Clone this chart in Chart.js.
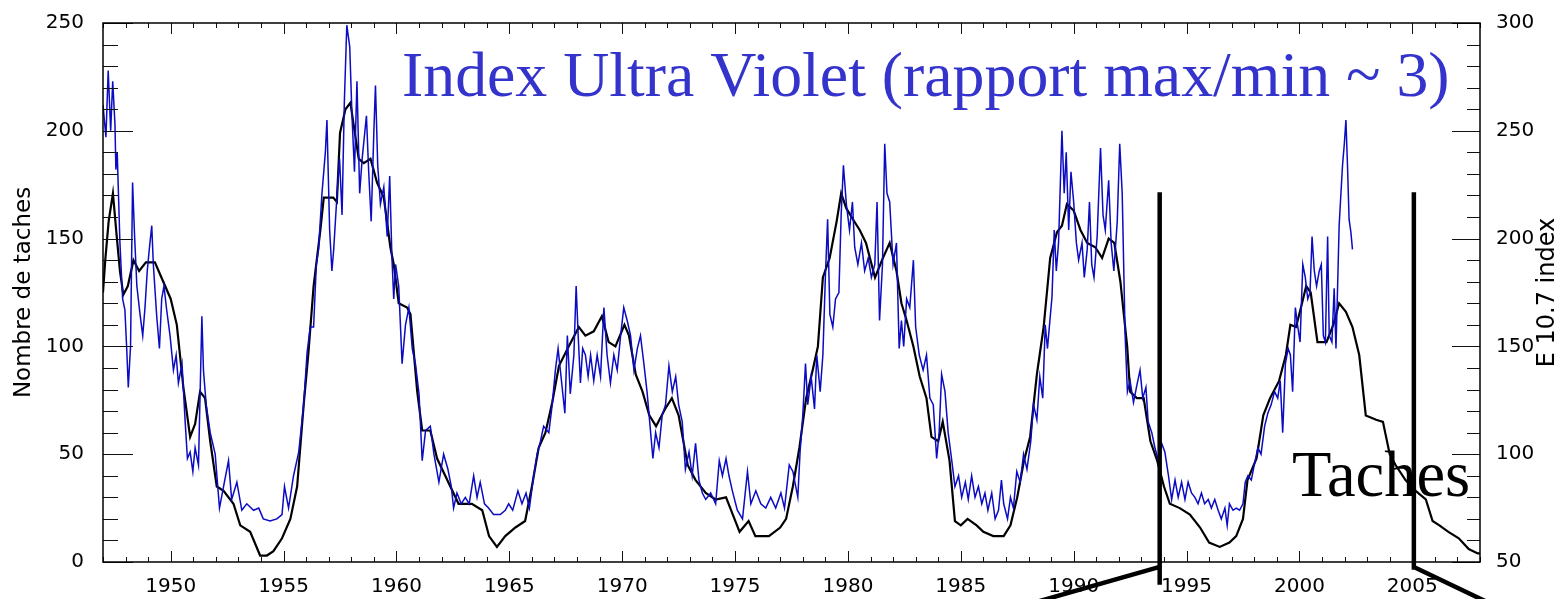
<!DOCTYPE html>
<html>
<head>
<meta charset="utf-8">
<title>Index Ultra Violet / Nombre de taches</title>
<script src="https://cdn.jsdelivr.net/npm/chart.js@4.4.1/dist/chart.umd.min.js"></script>
<style>
  html, body { margin: 0; padding: 0; background: #fff; }
  #wrap { position: relative; width: 1560px; height: 599px; }
</style>
</head>
<body>
<div id="wrap"><canvas id="chart"></canvas></div>
<script>
// sunspot number (black, left axis) : [year, value]
const sunspots = [
  [1947.00,125],[1947.10,140],[1947.25,158],[1947.44,171],[1947.60,152],[1947.75,135],[1947.90,124],
  [1948.10,128],[1948.35,140],[1948.60,135],[1948.90,139],[1949.30,139],[1949.67,130],[1950.00,122],
  [1950.27,110],[1950.56,81],[1950.86,58],[1951.08,64],[1951.30,79],[1951.52,76],[1951.75,56],
  [1952.04,35],[1952.34,33],[1952.78,27],[1953.08,17],[1953.52,14],[1953.96,3],[1954.26,3],
  [1954.55,5],[1954.93,11],[1955.30,20],[1955.60,35],[1955.89,73],[1956.10,97],[1956.33,128],
  [1956.63,154],[1956.78,169],[1957.20,169],[1957.36,167],[1957.50,199],[1957.74,210],[1957.96,213],
  [1958.10,203],[1958.33,187],[1958.55,185],[1958.85,187],[1959.14,176],[1959.44,169],[1959.73,146],
  [1959.88,138],[1960.10,120],[1960.47,118],[1960.62,115],[1960.92,79],[1961.14,61],[1961.50,61],
  [1961.80,48],[1962.25,38],[1962.75,27],[1963.34,27],[1963.80,24],[1964.10,12],[1964.45,7],
  [1964.82,12],[1965.27,16],[1965.70,19],[1966.00,35],[1966.30,53],[1966.60,60],[1966.90,74],
  [1967.20,91],[1967.63,100],[1968.08,109],[1968.37,105],[1968.74,107],[1969.10,114],[1969.40,102],
  [1969.70,100],[1970.10,110],[1970.30,105],[1970.60,87],[1970.90,79],[1971.20,68],[1971.50,63],
  [1971.90,71],[1972.20,76],[1972.50,68],[1972.90,45],[1973.25,38],[1973.70,32],[1974.14,29],
  [1974.60,30],[1974.90,22],[1975.20,14],[1975.60,19],[1975.90,12],[1976.50,12],[1977.00,16],
  [1977.26,20],[1977.56,35],[1977.85,53],[1978.15,76],[1978.44,89],[1978.67,100],[1978.89,132],
  [1979.19,141],[1979.50,158],[1979.70,171],[1979.93,164],[1980.22,159],[1980.52,154],[1980.80,148],
  [1981.20,132],[1981.55,141],[1981.85,148],[1982.15,135],[1982.37,120],[1982.60,112],[1982.90,100],
  [1983.18,86],[1983.48,76],[1983.70,58],[1984.00,56],[1984.20,65],[1984.50,47],[1984.74,19],
  [1985.00,17],[1985.30,20],[1985.70,17],[1986.00,14],[1986.44,12],[1986.90,12],[1987.20,17],
  [1987.50,30],[1987.80,47],[1988.07,58],[1988.37,87],[1988.67,109],[1988.96,141],[1989.26,153],
  [1989.48,156],[1989.70,166],[1990.00,163],[1990.30,154],[1990.60,148],[1990.96,146],[1991.26,141],
  [1991.55,150],[1991.80,148],[1992.07,130],[1992.37,100],[1992.50,79],[1992.80,76],[1993.10,76],
  [1993.40,56],[1993.70,47],[1994.00,35],[1994.26,27],[1994.70,25],[1995.15,22],[1995.60,16],
  [1996.00,9],[1996.47,7],[1996.90,9],[1997.20,12],[1997.50,20],[1997.70,38],[1998.10,48],
  [1998.40,68],[1998.70,76],[1999.10,84],[1999.40,96],[1999.60,110],[1999.85,109],[2000.07,118],
  [2000.30,128],[2000.50,125],[2000.80,102],[2001.20,102],[2001.50,110],[2001.76,120],[2002.06,116],
  [2002.35,109],[2002.65,96],[2002.94,68],[2003.40,66],[2003.70,65],[2004.00,50],[2004.26,45],
  [2004.70,38],[2005.15,33],[2005.60,29],[2005.90,19],[2006.20,17],[2006.60,14],[2007.06,11],
  [2007.50,6],[2007.90,4],[2008.00,4]
];

// F10.7 index (blue, right axis) : [year, value]
const f107 = [
  [1947.00,262],[1947.13,247],[1947.23,278],[1947.34,250],[1947.43,273],[1947.53,253],[1947.57,232],
  [1947.63,240],[1947.75,198],[1947.87,172],[1947.97,167],[1948.05,149],[1948.12,131],[1948.22,150],
  [1948.31,226],[1948.40,201],[1948.50,178],[1948.64,165],[1948.76,155],[1948.86,168],[1948.96,185],
  [1949.05,195],[1949.16,206],[1949.23,188],[1949.38,164],[1949.50,149],[1949.60,172],[1949.70,178],
  [1949.82,167],[1949.97,155],[1950.12,139],[1950.24,146],[1950.34,133],[1950.50,142],[1950.64,115],
  [1950.74,98],[1950.86,101],[1950.98,92],[1951.08,103],[1951.23,95],[1951.38,164],[1951.45,139],
  [1951.57,123],[1951.75,110],[1951.97,100],[1952.16,75],[1952.34,85],[1952.56,97],[1952.70,79],
  [1952.93,87],[1953.15,74],[1953.37,77],[1953.67,74],[1953.90,75],[1954.10,70],[1954.40,69],
  [1954.70,70],[1954.93,72],[1955.04,85],[1955.22,75],[1955.44,90],[1955.67,101],[1955.89,123],
  [1956.04,147],[1956.18,159],[1956.33,159],[1956.45,188],[1956.55,195],[1956.70,221],[1956.85,240],
  [1956.92,255],[1957.04,204],[1957.14,185],[1957.22,195],[1957.37,221],[1957.48,237],[1957.59,211],
  [1957.69,263],[1957.80,299],[1957.93,289],[1958.03,257],[1958.14,231],[1958.25,273],[1958.37,221],
  [1958.48,237],[1958.67,257],[1958.77,231],[1958.88,208],[1959.00,250],[1959.07,271],[1959.17,234],
  [1959.29,216],[1959.44,224],[1959.59,201],[1959.70,229],[1959.80,191],[1959.88,172],[1959.96,188],
  [1960.10,178],[1960.25,142],[1960.40,160],[1960.55,168],[1960.70,149],[1960.84,142],[1961.00,128],
  [1961.14,97],[1961.29,111],[1961.50,113],[1961.66,100],[1961.88,87],[1962.09,100],[1962.28,93],
  [1962.43,85],[1962.53,75],[1962.68,82],[1962.87,77],[1963.05,80],[1963.22,77],[1963.42,90],
  [1963.57,80],[1963.71,87],[1963.90,77],[1964.08,75],[1964.30,72],[1964.60,72],[1964.82,74],
  [1964.97,77],[1965.15,74],[1965.38,83],[1965.56,77],[1965.74,82],[1965.89,75],[1966.08,90],
  [1966.23,100],[1966.38,106],[1966.52,113],[1966.75,110],[1966.90,123],[1967.04,139],[1967.16,149],
  [1967.26,139],[1967.46,119],[1967.57,155],[1967.70,128],[1967.86,146],[1967.96,178],[1968.05,155],
  [1968.15,133],[1968.25,149],[1968.37,146],[1968.49,136],[1968.60,146],[1968.74,134],[1968.89,146],
  [1969.04,136],[1969.19,168],[1969.33,146],[1969.48,133],[1969.63,146],[1969.78,139],[1969.93,155],
  [1970.07,168],[1970.22,162],[1970.37,155],[1970.52,139],[1970.67,149],[1970.81,155],[1970.96,142],
  [1971.10,129],[1971.26,110],[1971.36,98],[1971.48,110],[1971.63,103],[1971.77,118],[1971.92,123],
  [1972.07,141],[1972.22,129],[1972.37,136],[1972.50,123],[1972.66,115],[1972.80,93],[1972.96,101],
  [1973.10,90],[1973.25,105],[1973.40,88],[1973.55,82],[1973.70,79],[1973.92,82],[1974.14,77],
  [1974.30,97],[1974.44,90],[1974.60,98],[1974.73,90],[1974.88,83],[1975.10,74],[1975.33,70],
  [1975.55,92],[1975.70,77],[1975.92,83],[1976.14,77],[1976.36,75],[1976.58,80],[1976.80,75],
  [1977.03,82],[1977.19,75],[1977.40,95],[1977.56,92],[1977.78,80],[1977.88,101],[1978.00,118],
  [1978.12,142],[1978.22,123],[1978.37,136],[1978.52,121],[1978.62,146],[1978.77,129],[1978.89,146],
  [1979.00,182],[1979.10,209],[1979.20,165],[1979.33,159],[1979.45,172],[1979.60,175],[1979.70,211],
  [1979.80,234],[1979.93,216],[1980.07,204],[1980.20,217],[1980.30,196],[1980.44,188],[1980.60,198],
  [1980.74,185],[1980.90,191],[1981.04,182],[1981.19,188],[1981.29,217],[1981.40,162],[1981.53,188],
  [1981.63,244],[1981.73,221],[1981.85,217],[1982.00,188],[1982.15,198],[1982.27,149],[1982.37,162],
  [1982.47,150],[1982.60,172],[1982.74,168],[1982.90,190],[1983.00,159],[1983.16,146],[1983.33,139],
  [1983.48,146],[1983.63,126],[1983.78,123],[1983.93,98],[1984.04,110],[1984.15,137],[1984.30,129],
  [1984.44,110],[1984.60,97],[1984.74,85],[1984.90,90],[1985.04,80],[1985.20,87],[1985.33,79],
  [1985.48,90],[1985.63,80],[1985.78,85],[1985.93,77],[1986.07,82],[1986.20,74],[1986.37,82],
  [1986.52,70],[1986.67,74],[1986.80,88],[1986.90,77],[1987.07,70],[1987.20,80],[1987.33,75],
  [1987.48,92],[1987.63,87],[1987.78,100],[1987.93,93],[1988.10,106],[1988.22,123],[1988.37,116],
  [1988.50,136],[1988.63,126],[1988.74,160],[1988.84,149],[1988.93,160],[1989.04,173],[1989.14,204],
  [1989.23,185],[1989.33,198],[1989.48,250],[1989.58,221],[1989.67,240],[1989.78,204],[1989.88,231],
  [1990.00,217],[1990.12,198],[1990.22,190],[1990.37,198],[1990.47,182],[1990.60,195],[1990.70,217],
  [1990.80,188],[1990.90,182],[1991.04,201],[1991.19,242],[1991.30,211],[1991.40,204],[1991.55,227],
  [1991.66,198],[1991.78,185],[1991.93,208],[1992.04,244],[1992.15,221],[1992.28,155],[1992.38,129],
  [1992.50,134],[1992.65,124],[1992.80,132],[1992.94,139],[1993.06,126],[1993.20,131],[1993.30,115],
  [1993.46,110],[1993.60,103],[1993.75,97],[1993.90,105],[1994.04,101],[1994.20,90],[1994.34,79],
  [1994.49,88],[1994.63,80],[1994.78,87],[1994.93,79],[1995.07,87],[1995.22,82],[1995.37,80],
  [1995.51,77],[1995.66,82],[1995.80,77],[1995.96,79],[1996.10,75],[1996.25,79],[1996.40,74],
  [1996.54,70],[1996.70,75],[1996.80,67],[1996.90,77],[1997.06,74],[1997.20,75],[1997.35,74],
  [1997.50,77],[1997.60,87],[1997.72,90],[1997.87,88],[1998.00,95],[1998.16,103],[1998.30,100],
  [1998.46,113],[1998.60,119],[1998.75,123],[1998.90,129],[1999.04,126],[1999.15,134],[1999.26,110],
  [1999.38,142],[1999.50,149],[1999.60,146],[1999.70,129],[1999.82,168],[1999.93,159],[2000.03,152],
  [2000.15,188],[2000.26,182],[2000.37,172],[2000.47,175],[2000.56,201],[2000.66,185],[2000.76,178],
  [2000.88,185],[2000.97,188],[2001.06,155],[2001.15,152],[2001.25,201],[2001.32,155],[2001.44,152],
  [2001.54,177],[2001.62,149],[2001.69,177],[2001.76,206],[2001.84,221],[2001.91,234],[2001.99,244],
  [2002.06,255],[2002.13,234],[2002.20,209],[2002.28,203],[2002.35,195]
];

const yearTicks = [1950, 1955, 1960, 1965, 1970, 1975, 1980, 1985, 1990, 1995, 2000, 2005];
const leftTicks = [0, 50, 100, 150, 200, 250];
const rightTicks = [50, 100, 150, 200, 250, 300];

// thick annotation lines, in axis units (year, left-axis value)
const marks = [
  { x: 1993.81, top: 171.5, bottom: -10.5, joint: -2.3, endX: 1985.67, endY: -26.5 },
  { x: 2005.07, top: 171.5, bottom: -3.6, joint: -2.3, endX: 2009.90, endY: -26.5 }
];

const tickFont = { family: 'DejaVu Sans', size: 20 };
const asText = v => String(v);

const decor = {
  id: 'decor',
  afterDatasetsDraw(chart) {
    const { ctx, chartArea: a, scales } = chart;
    const xs = scales.x, yl = scales.y, yr = scales.y2;
    ctx.save();

    // inward ticks on the four sides
    ctx.strokeStyle = '#111';
    ctx.lineWidth = 1;
    ctx.beginPath();
    for (let yv = 1947; yv <= 2008; yv++) {
      const px = Math.round(xs.getPixelForValue(yv)) + 0.5;
      const len = yv % 5 === 0 ? 11 : 5;
      ctx.moveTo(px, a.bottom); ctx.lineTo(px, a.bottom - len);
      ctx.moveTo(px, a.top); ctx.lineTo(px, a.top + len);
    }
    for (let v = 0; v <= 250; v += 10) {
      const py = Math.round(yl.getPixelForValue(v)) + 0.5;
      ctx.moveTo(a.left, py); ctx.lineTo(a.left + (v % 50 === 0 ? 30 : 15), py);
    }
    for (let v = 50; v <= 300; v += 10) {
      const py = Math.round(yr.getPixelForValue(v)) + 0.5;
      ctx.moveTo(a.right, py); ctx.lineTo(a.right - (v % 50 === 0 ? 28 : 13), py);
    }
    ctx.stroke();

    // frame
    ctx.lineWidth = 1.5;
    ctx.strokeStyle = '#000';
    ctx.strokeRect(a.left, a.top, a.right - a.left, a.bottom - a.top);

    // right axis title, reading upwards
    ctx.save();
    ctx.translate(1548, (a.top + a.bottom) / 2);
    ctx.rotate(-Math.PI / 2);
    ctx.font = '24px "DejaVu Sans"';
    ctx.fillStyle = '#000';
    ctx.textAlign = 'center';
    ctx.textBaseline = 'middle';
    ctx.fillText('E 10.7 index', 0, 0);
    ctx.restore();

    // big labels
    ctx.textBaseline = 'alphabetic';
    ctx.textAlign = 'left';
    ctx.font = '63.8px "Liberation Serif"';
    ctx.fillStyle = '#3434cc';
    ctx.fillText('Index Ultra Violet (rapport max/min ~ 3)', 402, 96);
    ctx.font = '64.5px "Liberation Serif"';
    ctx.fillStyle = '#000';
    ctx.fillText('Taches', 1292, 496);

    // thick marker lines
    ctx.lineWidth = 4.5;
    ctx.lineCap = 'butt';
    ctx.strokeStyle = '#000';
    marks.forEach(m => {
      const px = xs.getPixelForValue(m.x);
      ctx.beginPath();
      ctx.moveTo(px, yl.getPixelForValue(m.top));
      ctx.lineTo(px, yl.getPixelForValue(m.bottom));
      ctx.moveTo(px, yl.getPixelForValue(m.joint));
      ctx.lineTo(xs.getPixelForValue(m.endX), yl.getPixelForValue(m.endY));
      ctx.stroke();
    });
    ctx.restore();
  }
};

new Chart(document.getElementById('chart'), {
  type: 'line',
  data: {
    datasets: [
      {
        label: 'F10.7',
        data: f107.map(p => ({ x: p[0], y: p[1] })),
        yAxisID: 'y2',
        borderColor: '#0b0bc4',
        borderWidth: 1.5,
        pointRadius: 0,
        tension: 0
      },
      {
        label: 'Taches',
        data: sunspots.map(p => ({ x: p[0], y: p[1] })),
        yAxisID: 'y',
        borderColor: '#000',
        borderWidth: 2.2,
        pointRadius: 0,
        tension: 0
      }
    ]
  },
  options: {
    responsive: true,
    maintainAspectRatio: false,
    devicePixelRatio: 1,
    animation: false,
    layout: { padding: { top: 14, left: 0, right: 0, bottom: 0 } },
    plugins: { legend: { display: false }, tooltip: { enabled: false } },
    scales: {
      x: {
        type: 'linear', min: 1947, max: 2008,
        afterBuildTicks: s => { s.ticks = yearTicks.map(v => ({ value: v })); },
        afterFit: s => { s.height = 37; },
        grid: { display: false }, border: { display: false },
        ticks: { font: tickFont, color: '#000', padding: 5, maxRotation: 0, autoSkip: false, callback: asText }
      },
      y: {
        position: 'left', min: 0, max: 250,
        afterBuildTicks: s => { s.ticks = leftTicks.map(v => ({ value: v })); },
        afterFit: s => { s.width = 103; },
        grid: { display: false }, border: { display: false },
        ticks: { font: tickFont, color: '#000', padding: 11, callback: asText },
        title: { display: true, text: 'Nombre de taches', color: '#000',
                 font: { family: 'DejaVu Sans', size: 23 }, padding: { top: 10, bottom: 0 } }
      },
      y2: {
        position: 'right', min: 50, max: 300,
        afterBuildTicks: s => { s.ticks = rightTicks.map(v => ({ value: v })); },
        afterFit: s => { s.width = 80; },
        grid: { display: false }, border: { display: false },
        ticks: { font: tickFont, color: '#000', padding: 8, callback: asText }
      }
    }
  },
  plugins: [decor]
});
</script>
</body>
</html>
